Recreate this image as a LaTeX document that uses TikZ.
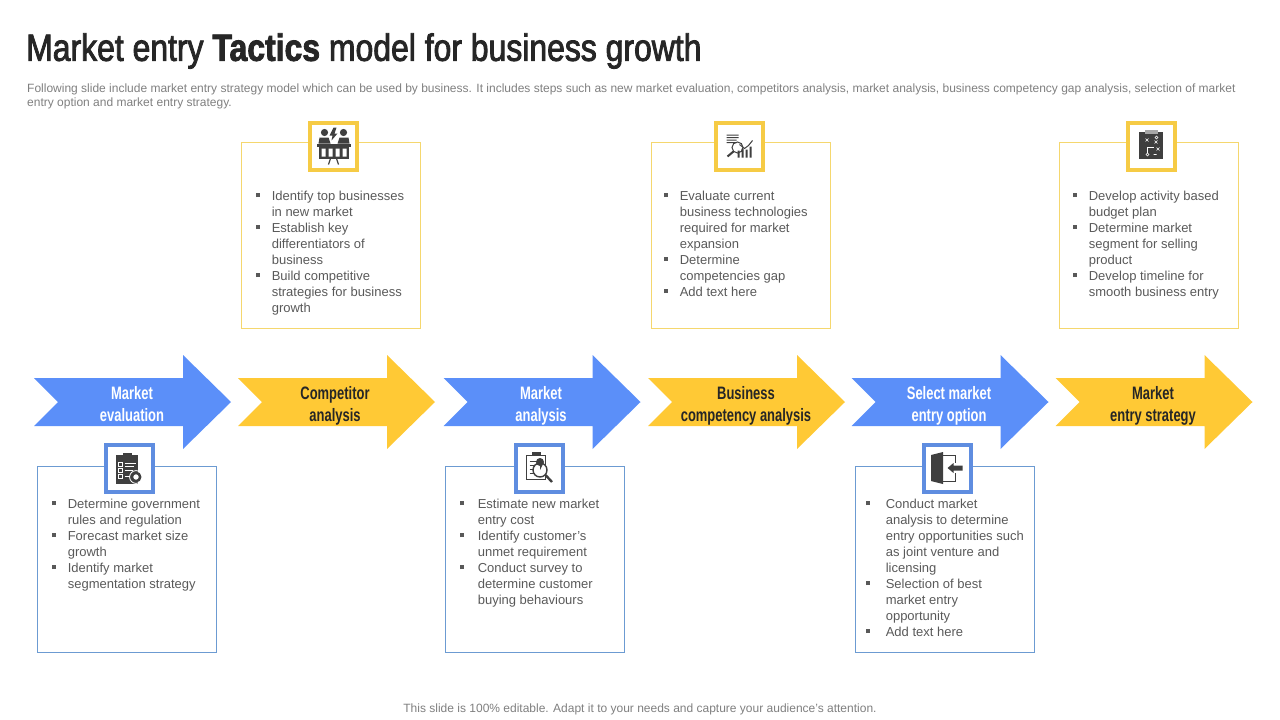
\documentclass[tikz,border=0pt]{standalone}
\usepackage{fontspec}
\setmainfont{Liberation Sans}
\newfontfamily\headfont[FakeStretch=.72]{Liberation Sans}
\newfontfamily\titlefont[FakeStretch=.84,FakeBold=2.2]{Liberation Sans}
\usetikzlibrary{positioning}
\definecolor{arrowblue}{HTML}{5B8FF9}
\definecolor{arrowyellow}{HTML}{FFC935}
\definecolor{boxblue}{HTML}{6C9BD2}
\definecolor{boxyellow}{HTML}{F5D76E}
\definecolor{frameblue}{HTML}{5F8DE0}
\definecolor{frameyellow}{HTML}{F6CB45}
\definecolor{icondark}{HTML}{3F3F3F}
\definecolor{bodygray}{HTML}{595959}
\definecolor{notegray}{HTML}{7F7F7F}
\newcommand{\blt}{\rule[3pt]{4pt}{4pt}}
\newcommand{\bullist}[2][16pt]{\begin{tabular}{@{}p{#1}@{}l@{}}#2\end{tabular}}

\begin{document}
\begin{tikzpicture}[x=1pt, y=-1pt,
    box/.style={rectangle, draw, line width=0.8pt, minimum width=179pt, minimum height=186pt, inner sep=0pt},
    frame/.style={rectangle, draw, fill=white, line width=4pt, minimum size=47pt, inner sep=0pt},
    steptext/.style={align=center, font=\headfont\bfseries\fontsize{18}{22}\selectfont},
    listtext/.style={anchor=north west, inner sep=0pt, text=bodygray, font=\fontsize{13}{16}\selectfont}]
    \useasboundingbox (0,0) rectangle (1280,720);

    % Texts
    \node [anchor=west, inner sep=0pt, font=\titlefont\fontsize{38}{44}\selectfont, text=black!85] (title) at (26,51) {Market entry {\bfseries Tactics} model for business growth};
    \node [anchor=north west, inner sep=0pt, align=left, text=notegray, font=\fontsize{12}{14}\selectfont] (intro) at (27,84) {Following slide include market entry strategy model which can be used by business. It includes steps such as new market evaluation, competitors analysis, market analysis, business competency gap analysis, selection of market\\entry option and market entry strategy.};
    \node [inner sep=0pt, text=notegray, font=\fontsize{12}{14}\selectfont] (note) at (640,709) {This slide is 100\% editable. Adapt it to your needs and capture your audience's attention.};

    % Arrows
    \foreach \ax/\acol in {34/arrowblue, 238/arrowyellow, 443.5/arrowblue, 648/arrowyellow, 851.5/arrowblue, 1055.5/arrowyellow}
        \fill [\acol] (\ax,378) -- ++(149,0) -- ++(0,-23) -- ++(48,47) -- ++(-48,47) -- ++(0,-23) -- ++(-149,0) -- ++(24,-24) -- cycle;

    \node [steptext, text=white] (A1) at (132,407) {Market\\evaluation\strut};
    \node [steptext, text=black!85] (A2) at (335,407) {Competitor\\analysis\strut};
    \node [steptext, text=white] (A3) at (541,407) {Market\\analysis\strut};
    \node [steptext, text=black!85] (A4) at (746,407) {Business\\competency analysis\strut};
    \node [steptext, text=white] (A5) at (949,407) {Select market\\entry option\strut};
    \node [steptext, text=black!85] (A6) at (1153,407) {Market\\entry strategy\strut};

    % Boxes
    \node [box, draw=boxyellow] (B2) at (331,235) {};
    \node [box, draw=boxyellow] (B4) at (740.5,235) {};
    \node [box, draw=boxyellow] (B6) at (1148.5,235) {};
    \node [box, draw=boxblue] (B1) at (127,559) {};
    \node [box, draw=boxblue] (B3) at (535,559) {};
    \node [box, draw=boxblue] (B5) at (944.5,559) {};

    % Lists
    \node [listtext, xshift=14.5pt, yshift=-47pt] (L2) at (B2.north west) {\bullist{
        \blt & Identify top businesses\\ & in new market\\
        \blt & Establish key\\ & differentiators of\\ & business\\
        \blt & Build competitive\\ & strategies for business\\ & growth}};
    \node [listtext, xshift=13pt, yshift=-47pt] (L4) at (B4.north west) {\bullist{
        \blt & Evaluate current\\ & business technologies\\ & required for market\\ & expansion\\
        \blt & Determine\\ & competencies gap\\
        \blt & Add text here}};
    \node [listtext, xshift=14pt, yshift=-47pt] (L6) at (B6.north west) {\bullist{
        \blt & Develop activity based\\ & budget plan\\
        \blt & Determine market\\ & segment for selling\\ & product\\
        \blt & Develop timeline for\\ & smooth business entry}};
    \node [listtext, xshift=14.5pt, yshift=-31pt] (L1) at (B1.north west) {\bullist{
        \blt & Determine government\\ & rules and regulation\\
        \blt & Forecast market size\\ & growth\\
        \blt & Identify market\\ & segmentation strategy}};
    \node [listtext, xshift=14.5pt, yshift=-31pt] (L3) at (B3.north west) {\bullist[18pt]{
        \blt & Estimate new market\\ & entry cost\\
        \blt & Identify customer's\\ & unmet requirement\\
        \blt & Conduct survey to\\ & determine customer\\ & buying behaviours}};
    \node [listtext, xshift=11pt, yshift=-31pt] (L5) at (B5.north west) {\bullist[20pt]{
        \blt & Conduct market\\ & analysis to determine\\ & entry opportunities such\\ & as joint venture and\\ & licensing\\
        \blt & Selection of best\\ & market entry\\ & opportunity\\
        \blt & Add text here}};

    % Icon frames
    \node [frame, draw=frameyellow] (I2) at (333.5,146.5) {};
    \node [frame, draw=frameyellow] (I4) at (739.5,146.5) {};
    \node [frame, draw=frameyellow] (I6) at (1151.5,146.5) {};
    \node [frame, draw=frameblue] (I1) at (129.5,468) {};
    \node [frame, draw=frameblue] (I3) at (539.5,468) {};
    \node [frame, draw=frameblue] (I5) at (947.5,468) {};

    % Icon: meeting table
    \begin{scope}[shift={(I2.center)}, icondark]
        \fill (-9,-14) circle (3.6) (10,-14) circle (3.6);
        \fill (-15,-3) -- (-14,-9) -- (-5,-9) -- (-3,-3) -- cycle (4,-3) -- (6,-9) -- (15,-9) -- (16,-3) -- cycle;
        \fill (0,-19) -- (-4,-11) -- (-1,-11) -- (-2,-6) -- (4,-13) -- (1,-13) -- (3,-19) -- cycle;
        \fill (-17,-3) rectangle (17,0);
        \fill (-15,0) rectangle (15,12);
        \fill [white] (-12,2) rectangle (-8,10) (-5,2) rectangle (-1,10) (2,2) rectangle (6,10) (9,2) rectangle (13,10);
        \draw [line width=1.2pt] (-3,12) -- (-5,18) (3,12) -- (5,18);
    \end{scope}

    % Icon: magnifier and chart
    \begin{scope}[shift={(I4.center)}, icondark]
        \fill (-13,-12) rectangle (-1,-11) (-13,-9.5) rectangle (-1,-8.5) (-13,-7) rectangle (-3,-6) (-13,-4.5) rectangle (-3,-3.5);
        \draw [line width=1pt] (-2,1) circle (5.5);
        \draw [line width=2pt] (-6,5) -- (-12,10);
        \fill (-2,4) rectangle (0,11) (2,2) rectangle (4,11) (6,3) rectangle (8,11) (10,0) rectangle (12,11);
        \draw [line width=1pt] (0,-2) -- (5,2) -- (9,-1) -- (13,-6);
    \end{scope}

    % Icon: tactics board
    \begin{scope}[shift={(I6.center)}]
        \fill [icondark] (-12.5,-15) rectangle (11.5,12.5);
        \fill [gray!70] (-7,-17) rectangle (6,-13);
        \draw [white, line width=0.6pt] (-6,-8) -- ++(3,3) ++(0,-3) -- ++(-3,3) (3,-6) -- ++(3,3) ++(0,-3) -- ++(-3,3) (5,1) -- ++(3,3) ++(0,-3) -- ++(-3,3);
        \draw [white, line width=0.6pt] (-4,8) circle (1.5) (5,-9) circle (1.5) (2,8) -- ++(3,0);
        \draw [white, line width=0.5pt] (-4,6) -- (-4,1) -- (2,1);
    \end{scope}

    % Icon: checklist and gear
    \begin{scope}[shift={(I1.center)}]
        \fill [icondark] (-13.5,-13) rectangle (8.5,16);
        \fill [icondark] (-7,-15.5) rectangle (2,-12);
        \draw [white, line width=0.5pt] (-11,-6) rectangle (-7,-2) (-11,0) rectangle (-7,4) (-11,6) rectangle (-7,10);
        \draw [white, line width=0.6pt] (-5,-5) -- (6,-5) (-5,-2) -- (4,-2) (-5,2) -- (3,2) (-5,8) -- (0,8);
        \draw [icondark, fill=white, line width=2.5pt] (6.5,9) circle (4.2);
        \draw [white, line width=0.8pt] (6.5,9) circle (6.4);
    \end{scope}

    % Icon: report under a magnifier
    \begin{scope}[shift={(I3.center)}, icondark]
        \draw [line width=1pt] (-13,-13) rectangle (6,11);
        \fill (-8,-16) rectangle (1,-12);
        \draw [line width=0.7pt] (-10,-7) -- (3,-7) (-10,-3) -- (-5,-3) (-10,1) -- (-5,1) (-10,5) -- (-5,5);
        \draw [fill=white, line width=1.4pt] (0.5,2) circle (7);
        \fill (0.5,2) -- (0.5,-2) arc (-90:180:-4) -- cycle;
        \draw [line width=2.4pt] (6,7) -- (12.5,14);
    \end{scope}

    % Icon: door and arrow
    \begin{scope}[shift={(I5.center)}, icondark]
        \fill (-16.5,-13) -- (-4.5,-16) -- (-4.5,16) -- (-16.5,13) -- cycle;
        \draw [line width=0.9pt] (-4.5,-13) -- (7.5,-13) -- (7.5,-5) (7.5,5) -- (7.5,13) -- (-4.5,13);
        \fill (0,0) -- (6,-5) -- (6,-2.5) -- (15,-2.5) -- (15,2.5) -- (6,2.5) -- (6,5) -- cycle;
    \end{scope}

\end{tikzpicture}
\end{document}
